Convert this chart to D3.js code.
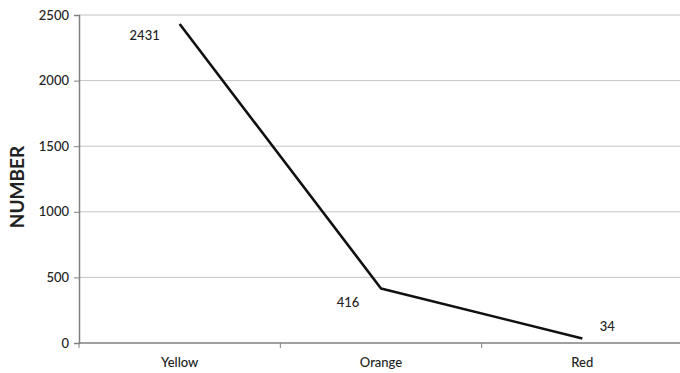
<!DOCTYPE html>
<html>
<head>
<meta charset="utf-8">
<script src="https://cdn.jsdelivr.net/npm/d3@7"></script>
<style>
  body { margin: 0; background: #fff; }
  text { font-family: Lato, "Open Sans", sans-serif; fill: #222; }
</style>
</head>
<body>
<div class="canvas"></div>
<script>
// Data
const categories = ["Yellow", "Orange", "Red"];
const counts = [2431, 416, 34];
const yTicks = [0, 500, 1000, 1500, 2000, 2500];

const width = 680, height = 373;
const margin = { top: 15, right: -3, bottom: 30, left: 79 };
const graphWidth = width - margin.left - margin.right;
const graphHeight = height - margin.top - margin.bottom;

const svg = d3.select(".canvas").append("svg")
    .attr("width", width)
    .attr("height", height);

const graph = svg.append("g")
    .attr("transform", `translate(${margin.left}, ${margin.top})`);

const x = d3.scaleBand().domain(categories).range([0, graphWidth]);
const y = d3.scaleLinear().domain([0, 2500]).range([graphHeight, 0]);

// gridlines
graph.selectAll("line.grid")
    .data(yTicks.filter(d => d > 0))
    .enter().append("line")
    .attr("class", "grid")
    .attr("x1", 0).attr("x2", graphWidth)
    .attr("y1", d => y(d)).attr("y2", d => y(d))
    .attr("stroke", "#c4c4c4")
    .attr("stroke-width", 1);

// y axis
const yAxisGroup = graph.append("g")
    .call(d3.axisLeft(y).tickValues(yTicks).tickFormat(d3.format("d")).tickSize(5).tickPadding(5));
yAxisGroup.select(".domain").attr("stroke", "#808080").attr("stroke-width", 1.5);
yAxisGroup.selectAll(".tick line").attr("stroke", "#808080");
yAxisGroup.selectAll(".tick text").style("font-size", "13px").style("font-weight", 500).attr("fill", "#222");

// x axis: ticks at band boundaries, labels at band centres
const xAxisGroup = graph.append("g")
    .attr("transform", `translate(0, ${graphHeight})`);
xAxisGroup.append("line")
    .attr("x1", 0).attr("x2", graphWidth)
    .attr("stroke", "#808080").attr("stroke-width", 1.5);
xAxisGroup.selectAll("line.tk")
    .data(categories.concat(["end"]))
    .enter().append("line")
    .attr("class", "tk")
    .attr("x1", (d, i) => i * x.bandwidth())
    .attr("x2", (d, i) => i * x.bandwidth())
    .attr("y1", 0).attr("y2", 5)
    .attr("stroke", "#808080");
xAxisGroup.selectAll("text")
    .data(categories)
    .enter().append("text")
    .attr("x", d => x(d) + x.bandwidth() / 2)
    .attr("y", 24)
    .attr("text-anchor", "middle")
    .style("font-size", "13px")
    .style("font-weight", 500)
    .text(d => d);

// line
const line = d3.line()
    .x((d, i) => x(categories[i]) + x.bandwidth() / 2)
    .y(d => y(d));
graph.append("path")
    .datum(counts)
    .attr("fill", "none")
    .attr("stroke", "#111")
    .attr("stroke-width", 2.6)
    .attr("stroke-linejoin", "round")
    .attr("d", line);

// value labels
const labelOffsets = [[-35, 11], [-33, 14], [25, -12]];
graph.selectAll("text.val")
    .data(counts)
    .enter().append("text")
    .attr("class", "val")
    .attr("x", (d, i) => x(categories[i]) + x.bandwidth() / 2 + labelOffsets[i][0])
    .attr("y", (d, i) => y(d) + labelOffsets[i][1])
    .attr("dy", "0.35em")
    .attr("text-anchor", "middle")
    .style("font-size", "13px")
    .style("font-weight", 500)
    .text(d => d);

// y title
svg.append("text")
    .attr("transform", `translate(24, ${margin.top + graphHeight / 2 + 8}) rotate(-90)`)
    .attr("text-anchor", "middle")
    .style("font-size", "19px")
    .style("font-weight", "bold")
    .attr("fill", "#111")
    .text("NUMBER");
</script>
</body>
</html>
